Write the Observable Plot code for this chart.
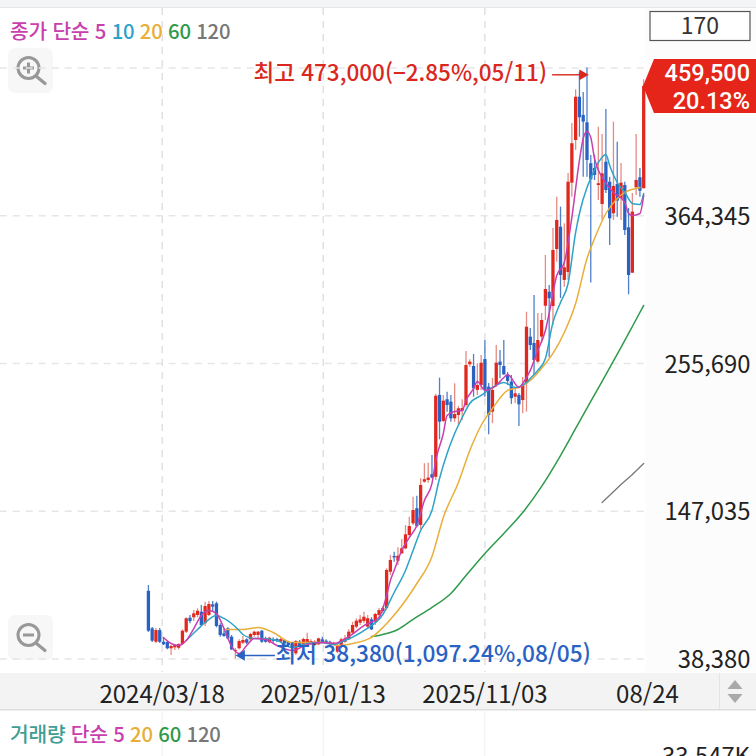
<!DOCTYPE html>
<html lang="ko">
<head>
<meta charset="utf-8">
<script src="https://cdn.jsdelivr.net/npm/d3@7"></script>
<script src="https://cdn.jsdelivr.net/npm/@observablehq/plot@0.6"></script>
<style>
html,body{margin:0;padding:0;background:#fff;width:756px;height:756px;overflow:hidden}
#wrap{position:relative;width:756px;height:756px;font-family:"Noto Sans CJK KR","Noto Sans",sans-serif}
.legend{position:absolute;left:10px;font-size:20.3px;font-weight:500;white-space:pre;line-height:24px;letter-spacing:-.2px}
</style>
</head>
<body>
<div id="wrap"></div>
<script>
// Weekly candles, in thousands of won
const open = [88.2,60.6,50.7,59.3,50.7,50.5,45.9,46.6,46.3,49.0,
58.1,68.4,68.7,70.4,72.8,64.3,70.4,78.2,79.0,63.0,
56.9,60.6,54.4,43.9,45.9,50.0,52.5,52.5,55.7,55.7,
58.8,53.2,50.3,52.7,52.7,50.7,52.0,50.7,49.5,42.2,
50.7,48.8,49.5,49.5,48.3,48.8,52.5,51.5,50.7,48.8,
43.4,47.1,50.7,52.5,57.4,61.8,64.7,66.0,61.8,67.2,
65.4,70.4,73.3,75.5,102.2,113.8,110.3,115.7,119.4,129.2,
137.8,148.9,136.6,168.4,169.7,173.9,172.0,232.2,213.1,229.0,
227.3,215.0,217.5,220.6,224.8,254.8,253.5,235.9,239.5,258.6,
238.3,219.9,239.5,256.7,253.5,246.9,242.0,230.9,232.2,228.5,
240.8,275.1,270.4,256.7,275.1,297.8,308.1,297.6,339.5,355.9,
316.8,322.6,388.3,419.7,451.5,438.1,432.7,402.6,399.1,386.6,
372.6,403.7,389.0,365.8,387.4,376.8,386.6,355.5,322.1,384.9,
392.3,384.2];
const high = [92.4,61.5,60.8,60.8,54.0,51.2,48.3,49.0,49.5,59.9,
68.7,70.4,74.0,75.3,77.7,80.2,80.7,80.7,80.2,64.3,
60.6,61.3,55.7,46.1,52.5,54.9,53.2,57.4,58.8,58.8,
59.3,54.4,54.4,54.0,53.7,53.5,52.7,51.5,50.5,52.0,
52.0,53.7,57.4,52.5,52.0,53.7,54.4,52.5,51.5,50.7,
49.5,53.7,55.7,59.9,65.4,67.9,70.4,72.8,70.4,68.7,
72.1,75.5,77.0,104.7,114.5,116.9,120.2,126.3,136.6,142.7,
157.4,158.1,170.9,182.0,182.4,188.0,232.9,244.9,232.2,234.6,
232.2,240.8,224.1,229.0,264.5,258.4,262.3,255.5,261.6,272.6,
241.0,244.7,268.9,265.3,272.6,249.1,246.9,237.5,233.6,245.4,
293.4,281.4,305.7,292.5,292.5,335.1,313.1,355.0,378.0,370.7,
358.4,395.4,432.2,457.0,469.9,455.0,473.0,408.7,408.7,429.5,
424.1,442.5,392.7,433.2,418.4,402.8,389.0,369.7,380.7,424.1,
399.1,464.3];
const low = [57.9,50.6,49.8,49.8,48.3,45.1,41.0,44.6,45.1,48.3,
57.1,64.3,66.0,68.7,62.3,62.3,69.7,72.8,61.3,54.4,
54.4,52.5,44.6,38.38,45.1,49.0,49.0,50.7,54.4,52.5,
50.0,50.0,49.5,50.0,50.3,49.8,48.3,47.6,45.4,41.0,
47.1,47.8,48.3,48.3,47.8,48.3,49.5,49.5,48.3,48.3,
42.4,45.9,50.0,52.0,55.7,60.6,63.0,64.3,60.6,59.3,
63.0,69.1,71.8,74.0,99.8,109.6,107.1,115.2,118.7,128.0,
136.6,134.9,133.4,167.7,167.7,170.9,169.7,199.6,212.3,219.9,
212.5,212.5,210.1,213.8,223.6,253.0,230.9,232.2,235.9,230.9,
203.3,211.4,238.3,244.5,246.9,239.5,225.6,226.3,209.4,218.7,
219.9,265.3,246.9,255.9,270.4,287.3,260.1,283.7,330.2,303.5,
311.8,316.8,378.0,412.4,422.1,392.7,392.7,314.8,390.3,375.6,
360.9,380.7,342.5,360.9,363.3,360.9,349.8,306.2,321.9,379.3,
378.0,384.2];
const close = [58.8,51.5,59.3,50.7,48.8,45.9,47.6,48.3,49.0,58.8,
68.0,65.9,71.6,73.5,63.0,77.0,78.5,76.5,62.3,55.7,
54.9,53.2,45.1,44.6,51.2,52.0,50.0,56.4,58.1,58.1,
50.7,50.7,53.7,51.2,51.2,52.7,49.5,48.3,46.1,51.2,
48.3,52.7,52.7,51.2,50.7,53.2,50.0,50.0,49.0,50.0,
48.3,52.5,53.2,58.1,63.0,66.2,67.2,69.1,68.0,59.8,
71.1,74.0,75.5,103.5,110.8,112.7,114.0,119.4,129.7,135.8,
147.6,135.8,166.0,170.2,171.4,171.4,231.6,212.5,228.0,224.8,
215.0,218.2,222.4,222.6,254.2,256.7,237.1,239.5,255.9,235.9,
217.5,235.9,255.9,254.2,247.4,242.5,229.8,233.4,225.3,240.0,
282.4,268.9,257.9,272.6,287.3,310.1,303.3,338.8,360.9,320.4,
326.1,389.0,417.3,451.5,436.4,433.2,405.0,390.8,394.0,387.9,
395.2,382.9,362.1,385.9,375.1,388.3,353.5,320.4,367.0,390.3,
382.4,459.5];

// Moving averages: [week index, thousands of won]
const ma5 = [[4,54.2],[6,49.8],[8,48.3],[10,52.0],[12,60.8],[14,70.4],[16,74.0],[18,71.8],[20,60.8],[22,47.6],[24,42.4],[26,48.3],[28,53.5],[31,52.7],[34,48.3],[38,44.6],[42,49.0],[46,50.5],[49,49.8],[53,54.9],[57,63.0],[61,68.9],[63,85.1],[64,96.1],[65,103.5],[67,118.2],[69,127.7],[71,136.6],[73,155.0],[75,167.5],[76,184.4],[78,204.2],[79,217.5],[81,220.4],[83,221.1],[84,228.5],[86,237.3],[87,242.5],[89,235.9],[92,239.5],[94,245.4],[95,247.6],[98,238.1],[99,241.0],[101,250.6],[103,265.3],[105,280.0],[106,292.5],[108,320.4],[110,330.0],[112,363.1],[114,405.0],[115,421.2],[116,426.3],[117,421.9],[118,406.4],[120,392.5],[121,388.1],[123,381.5],[126,374.1],[127,366.0],[128,364.5],[130,366.0],[131,379.3]];
const ma10 = [[10,52.0],[13,60.1],[15,65.2],[18,70.4],[20,68.2],[22,64.5],[24,59.3],[25,56.4],[28,53.5],[30,53.5],[34,52.0],[38,46.8],[42,49.8],[46,50.5],[49,49.0],[52,52.0],[57,59.3],[62,71.1],[65,87.3],[68,103.5],[70,118.2],[72,132.9],[75,147.6],[77,171.1],[79,189.5],[81,204.2],[83,216.0],[85,226.3],[88,232.2],[91,238.1],[94,241.7],[97,238.1],[100,241.7],[101,244.7],[103,250.6],[105,259.4],[107,285.9],[109,300.6],[111,314.5],[113,352.1],[114,366.0],[116,385.1],[117,391.8],[119,403.5],[121,409.4],[122,401.3],[124,388.8],[126,381.5],[128,373.4],[130,372.6],[131,380.7]];
const ma20 = [[20,60.1],[25,60.1],[29,61.5],[33,57.9],[38,50.5],[43,50.5],[47,50.5],[50,48.3],[54,49.8],[59,54.2],[62,61.5],[64,67.4],[68,81.4],[71,93.9],[75,113.8],[78,142.5],[82,168.2],[85,191.7],[88,210.1],[91,222.6],[95,235.9],[98,238.1],[101,243.2],[105,255.7],[107,263.1],[110,278.5],[113,299.8],[116,332.9],[118,347.6],[121,366.0],[124,377.1],[127,382.9],[129,384.4],[130,385.1]];
const ma60 = [[59,54.9],[61,55.7],[63,57.1],[66,60.1],[70,67.5],[75,76.3],[80,86.6],[84,99.8],[89,116.0],[94,130.7],[99,146.1],[104,165.3],[109,188.0],[113,207.9],[117,227.8],[120,242.5],[125,267.5],[128,282.9],[131,298.4]];
const ma120 = [[120,153.5],[125,166.7],[128,174.1],[131,182.2]];

const priceTicks = [38380,147035,255690,364345];
const priceGrid = [38380,147035,255690,364345,473000];
const dateTicks = [3.65,46.24,89,132];
const dateLabels = ["2024/03/18","2025/01/13","2025/11/03","08/24"];
const dateGrid = [3.65,46.24,89];

const RED="#e0281e", BLUE="#2a62c4";
const FONT='"Noto Sans CJK KR","Noto Sans",sans-serif';
const candles = open.map((o,i)=>({i,o:o*1000,h:high[i]*1000,l:low[i]*1000,c:close[i]*1000,up:close[i]>=o}));
const series = (a)=>a.map(([i,v])=>({i,v:v*1000}));

function chrome(index,scales,values,dim){
  const g=d3.create("svg:g");
  const R=(x,y,w,h,f,extra={})=>{const r=g.append("rect").attr("x",x).attr("y",y).attr("width",w).attr("height",h).attr("fill",f);for(const k in extra)r.attr(k,extra[k]);return r;};
  R(646,8,110,665,"#fcfcfc");
  R(0,0,756,7,"#f4f5f7"); R(0,7,756,1,"#e4e5e7");
  R(0,673,756,36,"#f3f3f3"); R(0,709,756,1.5,"#dedede"); R(719,673,1,36,"#e4e4e4");
  g.append("path").attr("d","M735 680l7.5 9h-15z").attr("fill","#a9a9a9");
  g.append("path").attr("d","M735 703l7.5-9h-15z").attr("fill","#a9a9a9");
  for(const x of [161.7,322.7,484.3]) R(x,710,1,46,"#f0f0f0");
  const icon=(cy,plus)=>{
    R(8,cy-20,45,45,"#f7f7f7",{rx:7});
    g.append("circle").attr("cx",28.5).attr("cy",cy).attr("r",10.5).attr("fill","none").attr("stroke","#989898").attr("stroke-width",3);
    g.append("path").attr("d",`M36.5 ${cy+8.5}L45 ${cy+15.5}`).attr("stroke","#989898").attr("stroke-width",3.2).attr("stroke-linecap","round");
    g.append("path").attr("d",plus?`M23 ${cy}h11M28.5 ${cy-5.5}v11`:`M23 ${cy}h11`).attr("stroke","#989898").attr("stroke-width",3);
  };
  icon(68,true); icon(635,false);
  return g.node();
}
function overlay(){
  const g=d3.create("svg:g");
  g.append("rect").attr("x",650).attr("y",11.5).attr("width",100).attr("height",29).attr("fill","#fff").attr("stroke","#555").attr("stroke-width",1.2);
  g.append("text").attr("x",700).attr("y",34).attr("text-anchor","middle").attr("font-size",23).attr("fill","#333").attr("font-family",FONT).text("170");
  g.append("path").attr("d","M654 59H756V113H654L643 86Z").attr("fill","#e5251a");
  g.append("text").attr("x",750).attr("y",80.5).attr("text-anchor","end").attr("font-size",23.5).attr("font-weight",500).attr("fill","#fff").attr("font-family","Roboto,sans-serif").text("459,500");
  g.append("text").attr("x",750).attr("y",108.5).attr("text-anchor","end").attr("font-size",23.5).attr("font-weight",500).attr("fill","#fff").attr("font-family","Roboto,sans-serif").text("20.13%");
  g.append("text").attr("x",750).attr("y",765).attr("text-anchor","end").attr("font-size",23.8).attr("fill","#222").attr("font-family",FONT).text("33,547K");
  return g.node();
}

const chart = Plot.plot({
  width:756,height:756,
  marginTop:8,marginBottom:84,marginLeft:0,marginRight:6,
  style:{fontFamily:FONT,background:"transparent",overflow:"hidden"},
  x:{type:"linear",domain:[0,131],range:[147.9,643.2],axis:null},
  y:{type:"linear",domain:[38380,473000],range:[658.5,67.5],axis:null},
  marks:[
    chrome,
    Plot.ruleY(priceGrid,{x1:-39.2,x2:131.5,stroke:"#e6e6e6",strokeWidth:1.3,strokeDasharray:"7,6"}),
    Plot.gridX(dateGrid,{stroke:"#dcdcdc",strokeOpacity:1,strokeWidth:1.3,strokeDasharray:"7,6"}),
    Plot.ruleX(candles,{x:"i",y1:"l",y2:"h",stroke:d=>d.up?"#e58c82":"#4f7fcb",strokeWidth:1.3}),
    Plot.ruleX(candles,{x:"i",y1:d=>Math.min(d.o,d.c),y2:d=>Math.max(d.o,d.c),stroke:d=>d.up?RED:BLUE,strokeWidth:3.3}),
    Plot.lineY(series(ma120),{x:"i",y:"v",stroke:"#777",strokeWidth:1.3}),
    Plot.lineY(series(ma60),{x:"i",y:"v",stroke:"#2f9a4a",strokeWidth:1.5,curve:"monotone-x"}),
    Plot.lineY(series(ma20),{x:"i",y:"v",stroke:"#e9ae37",strokeWidth:1.5,curve:"monotone-x"}),
    Plot.lineY(series(ma10),{x:"i",y:"v",stroke:"#2ea2c8",strokeWidth:1.5,curve:"monotone-x"}),
    Plot.lineY(series(ma5),{x:"i",y:"v",stroke:"#c93fae",strokeWidth:1.5,curve:"monotone-x"}),
    Plot.axisY({anchor:"right",ticks:priceTicks,tickSize:0,tickPadding:0,label:null,tickFormat:d3.format(","),textAnchor:"end",fontSize:23.8,fill:"#222",dy:1.5}),
    Plot.axisX({anchor:"bottom",ticks:dateTicks,tickSize:0,tickPadding:13,label:null,tickFormat:d=>dateLabels[dateTicks.indexOf(d)],fontSize:24,fill:"#222"}),
    Plot.text(["최고 473,000(−2.85%,05/11)"],{x:105.4,y:468600,text:d=>d,textAnchor:"end",fill:"#d9281e",fontSize:22.5,fontWeight:500}),
    Plot.text(["최저 38,380(1,097.24%,08/05)"],{x:117,y:41300,text:d=>d,textAnchor:"end",fill:BLUE,fontSize:22.7,fontWeight:500}),
    Plot.ruleY([468000],{x1:106.9,x2:114.5,stroke:"#d9281e",strokeWidth:1.4}),
    Plot.dot([{i:114.8,v:468000}],{x:"i",y:"v",symbol:"triangle",r:4,rotate:90,fill:"#d9281e"}),
    Plot.ruleY([41000],{x1:25,x2:33.6,stroke:BLUE,strokeWidth:1.4}),
    Plot.dot([{i:24.7,v:41000}],{x:"i",y:"v",symbol:"triangle",r:4,rotate:-90,fill:BLUE}),
    overlay
  ]
});
const wrap=document.getElementById("wrap");
wrap.appendChild(chart);
const mk=(top,parts)=>{const d=document.createElement("div");d.className="legend";d.style.top=top+"px";
  for(const [t,c] of parts){const s=document.createElement("span");s.textContent=t;s.style.color=c;d.appendChild(s);}
  wrap.appendChild(d);};
const MAG="#c93fae",CY="#2ea2c8",OR="#e9ae37",GR="#2f9a4a",GY="#777";
mk(18,[["종가 단순 5 ",MAG],["10 ",CY],["20 ",OR],["60 ",GR],["120",GY]]);
mk(721,[["거래량 ","#3f9e93"],["단순 5 ",MAG],["20 ",OR],["60 ",GR],["120",GY]]);
</script>
</body>
</html>
